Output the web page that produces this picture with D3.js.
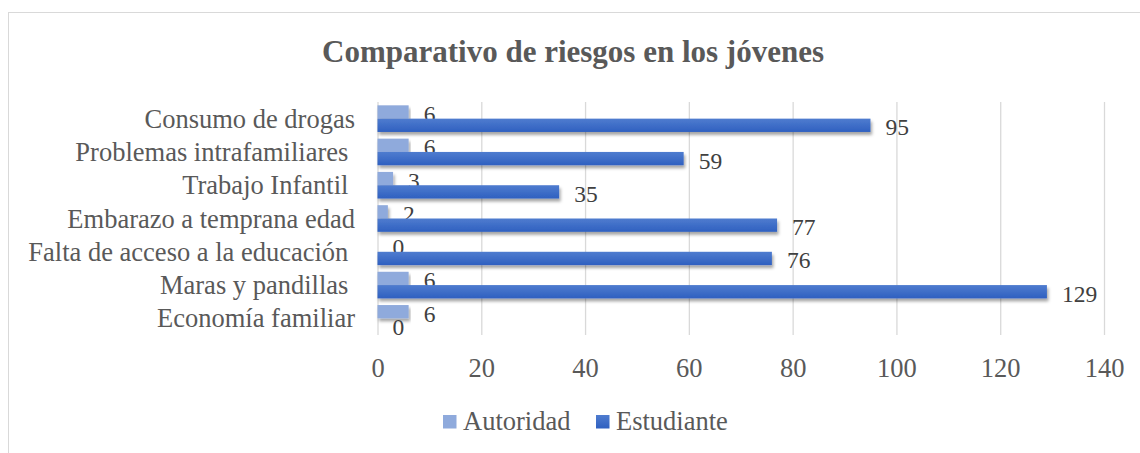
<!DOCTYPE html>
<html>
<head>
<meta charset="utf-8">
<script src="https://cdn.jsdelivr.net/npm/d3@7"></script>
<style>
  body { margin: 0; background: #fff; }
  text { font-family: "Liberation Serif", "Times New Roman", serif; white-space: pre; }
</style>
</head>
<body>
<svg id="chart"></svg>
<script>
const categories = [
    "Consumo de drogas",
    "Problemas intrafamiliares ",
    "Trabajo Infantil ",
    "Embarazo a temprana edad",
    "Falta de acceso a la educación ",
    "Maras y pandillas ",
    "Economía familiar"
];
const autoridad = [6, 6, 3, 2, 0, 6, 6];
const estudiante = [95, 59, 35, 77, 76, 129, 0];
const seriesNames = ["Autoridad", "Estudiante"];
const xTicks = [0, 20, 40, 60, 80, 100, 120, 140];

const width = 1140, height = 453;
const textColor = "#595959";

let svg = d3.select("#chart")
    .attr("width", width)
    .attr("height", height);

// soft shadow under the bars
const defs = svg.append("defs");
defs.append("filter")
    .attr("id", "shadow")
    .attr("x", "-5%").attr("y", "-50%")
    .attr("width", "110%").attr("height", "200%")
    .append("feDropShadow")
    .attr("dx", 1.5).attr("dy", 3)
    .attr("stdDeviation", 1.8)
    .attr("flood-color", "#000")
    .attr("flood-opacity", 0.35);

const grad = defs.append("linearGradient")
    .attr("id", "estGrad")
    .attr("x1", 0).attr("y1", 0).attr("x2", 0).attr("y2", 1);
grad.append("stop").attr("offset", "0%").attr("stop-color", "#4f7ccf");
grad.append("stop").attr("offset", "100%").attr("stop-color", "#2f60c0");

// chart frame
svg.append("rect")
    .attr("x", 8.5).attr("y", 12.5)
    .attr("width", 1140).attr("height", 460)
    .attr("fill", "none")
    .attr("stroke", "#d9d9d9");

// title
svg.append("text")
    .attr("x", 573).attr("y", 62)
    .attr("text-anchor", "middle")
    .attr("font-size", 31)
    .attr("font-weight", "bold")
    .attr("fill", textColor)
    .text("Comparativo de riesgos en los jóvenes");

const x = d3.scaleLinear()
    .domain([0, 140])
    .range([377.5, 1104]);

const y = d3.scaleBand()
    .domain(categories)
    .range([102, 335])
    .paddingInner(0)
    .paddingOuter(0);

const sub = d3.scaleBand()
    .domain(seriesNames)
    .range([0, y.bandwidth()])
    .paddingOuter(0.25)
    .paddingInner(0);

// gridlines + tick labels
const xAxis = svg.append("g")
    .attr("transform", `translate(0, 335)`)
    .call(d3.axisBottom(x)
        .tickValues(xTicks)
        .tickSize(-(335 - 102))
        .tickFormat(d3.format("d")));
xAxis.select(".domain").remove();
xAxis.selectAll(".tick line")
    .attr("stroke", "#d9d9d9")
    .attr("stroke-width", 1.3);
xAxis.selectAll(".tick text")
    .attr("fill", textColor)
    .attr("font-size", 26.5)
    .attr("dy", 0)
    .attr("y", 42);

// category labels
svg.append("g")
    .selectAll("text")
    .data(categories)
    .join("text")
    .attr("x", 355)
    .attr("y", d => y(d) + y.bandwidth() / 2 + 9)
    .attr("text-anchor", "end")
    .attr("font-size", 26.5)
    .attr("fill", textColor)
    .text(d => d);

const seriesData = [
    { name: "Autoridad", values: autoridad, fill: "#8faadc" },
    { name: "Estudiante", values: estudiante, fill: "url(#estGrad)" }
];

seriesData.forEach(s => {
    const rows = s.values.map((v, i) => ({ cat: categories[i], value: v }));

    svg.append("g")
        .attr("filter", "url(#shadow)")
        .selectAll("rect")
        .data(rows.filter(d => d.value > 0))
        .join("rect")
        .attr("x", x(0))
        .attr("y", d => y(d.cat) + sub(s.name))
        .attr("width", d => x(d.value) - x(0))
        .attr("height", sub.bandwidth())
        .attr("fill", s.fill);

    svg.append("g")
        .selectAll("text")
        .data(rows)
        .join("text")
        .attr("x", d => x(d.value) + 15)
        .attr("y", d => y(d.cat) + sub(s.name) + sub.bandwidth() / 2 + 10)
        .attr("font-size", 23.5)
        .attr("fill", "#404040")
        .text(d => d.value);
});

// legend
const legendItems = [
    { name: "Autoridad", fill: "#8faadc", x: 443 },
    { name: "Estudiante", fill: "url(#estGrad)", x: 596 }
];
const legend = svg.append("g")
    .selectAll("g")
    .data(legendItems)
    .join("g")
    .attr("transform", d => `translate(${d.x}, 415)`);
legend.append("rect")
    .attr("width", 13.5).attr("height", 13.5)
    .attr("fill", d => d.fill);
legend.append("text")
    .attr("x", 20).attr("y", 15)
    .attr("font-size", 26.5)
    .attr("fill", textColor)
    .text(d => d.name);
</script>
</body>
</html>
